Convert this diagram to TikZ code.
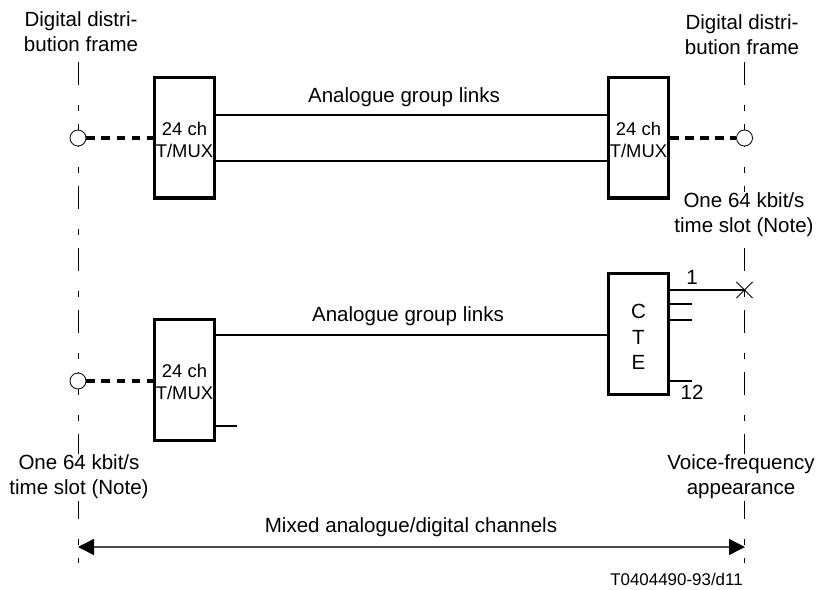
\documentclass[tikz,border=0pt]{standalone}
\usepackage{fontspec}
\setmainfont{Liberation Sans}
\usetikzlibrary{arrows.meta,shapes.misc}
\tikzset{
	frameline/.style={line width=0.75pt, dash pattern=on 17pt off 15pt on 4.5pt off 10pt},
	unitbox/.style={draw, line width=2.5pt, fill=white, minimum width=45pt, minimum height=90.5pt, inner sep=0pt, align=center, font=\fontsize{13.8}{16.5}\selectfont},
	link/.style={line width=1pt},
	digital/.style={line width=3pt, dash pattern=on 6.5pt off 4.8pt},
	port/.style={circle, draw, fill=white, line width=0.6pt, minimum size=12pt, inner sep=0pt},
	txt/.style={inner sep=1pt, align=center, font=\fontsize{15.4}{18.9}\selectfont},
	whitetxt/.style={txt, fill=white}
}
\begin{document}
\begin{tikzpicture}[x=0.75pt, y=-0.75pt, >={Triangle[length=12pt, width=12pt, color=black]}]
		\useasboundingbox (0,0) rectangle (819,590);
		% frame lines
		\coordinate (ltop) at (78,62);
		\coordinate (lbot) at (78,563);
		\coordinate (rtop) at (744.5,62);
		\coordinate (rbot) at (744.5,563);
		\draw[frameline] (ltop) -- (lbot);
		\draw[frameline] (rtop) -- (rbot);
		% units
		\node[unitbox] (mta) at (184.5,137.5) {\rule{0pt}{13pt}24 ch\\T/MUX};
		\node[unitbox] (mtb) at (638.5,137.5) {\rule{0pt}{13pt}24 ch\\T/MUX};
		\node[unitbox] (mtc) at (184.5,380) {\rule{0pt}{13pt}24 ch\\T/MUX};
		\node[unitbox, font=\fontsize{15.4}{18.9}\selectfont] (cte) at (638.5,334) {\rule{0pt}{15pt}C\\T\\E};
		\node[port] (pta) at (78,138) {};
		\node[port] (ptb) at (744.5,138) {};
		\node[port] (ptc) at (78,381) {};
		\node[cross out, draw, line width=0.6pt, minimum size=11.5pt, inner sep=0pt] (xing) at (744.5,290) {};
		% connectors
		\coordinate (lka) at (400,115);
		\coordinate (lkb) at (400,161);
		\coordinate (lkc) at (400,335);
		\draw[link] (mta.east |- lka) -- (mtb.west |- lka);
		\draw[link] (mta.east |- lkb) -- (mtb.west |- lkb);
		\draw[link] (mtc.east |- lkc) -- (cte.west |- lkc);
		\draw[digital] (pta.east) -- (mta.west |- pta);
		\draw[digital] (mtb.east |- ptb) -- (ptb.west);
		\draw[digital] (ptc.east) -- (mtc.west |- ptc);
		\draw[link] (cte.east |- xing) -- (xing.center);
		\coordinate (sta) at (692,304);
		\coordinate (stb) at (692,320);
		\coordinate (stc) at (692,381);
		\coordinate (std) at (237,426);
		\draw[link] (cte.east |- sta) -- (sta);
		\draw[link] (cte.east |- stb) -- (stb);
		\draw[link] (cte.east |- stc) -- (stc);
		\draw[link] (mtc.east |- std) -- (std);
		\coordinate (arl) at (78,547);
		\coordinate (arr) at (745,547);
		\draw[<->, line width=1.1pt, black!70] (arl) -- (arr);
		% labels
		\node[txt] (fra) at (81,32) {Digital distri-\\bution frame};
		\node[txt] (frb) at (742,35) {Digital distri-\\bution frame};
		\node[whitetxt] (sla) at (744,215) {One 64 kbit/s\\time slot (Note)};
		\node[whitetxt] (slb) at (79,477) {One 64 kbit/s\\time slot (Note)};
		\node[whitetxt] (vfa) at (741,477) {Voice-frequency\\appearance};
		\node[txt] (gla) at (404,97) {Analogue group links};
		\node[txt] (glb) at (408,316) {Analogue group links};
		\node[txt] (mix) at (411,527) {Mixed analogue/digital channels};
		\node[txt] (one) at (692,277) {1};
		\node[txt] (twv) at (692,392) {12};
		\node[txt, font=\fontsize{12.7}{15}\selectfont] (ref) at (676.5,579.5) {T0404490-93/d11};
\end{tikzpicture}
\end{document}
